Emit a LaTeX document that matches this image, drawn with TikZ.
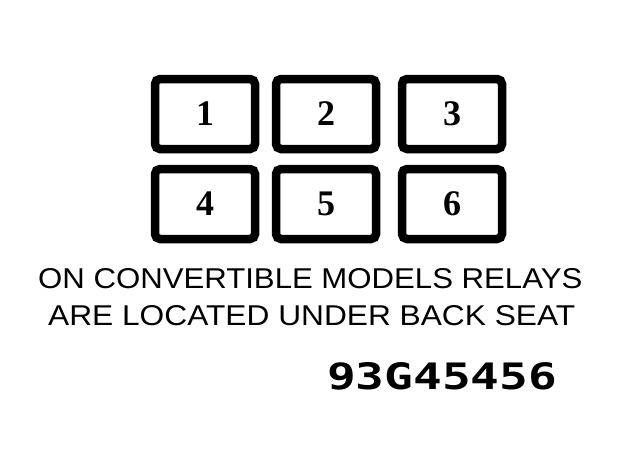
\documentclass[tikz,border=0pt]{standalone}
\usepackage{fontspec}
\setmainfont{Liberation Serif}
\setsansfont{Liberation Sans}
\newfontfamily\codefont{DejaVu Sans Mono}
\begin{document}
\begin{tikzpicture}[x=1pt,y=-1pt,
  relay/.style={draw=black,line width=8.5pt,rounded corners=5pt,minimum width=100pt,minimum height=70pt,inner sep=0pt,font=\fontsize{36}{36}\selectfont\bfseries},
  caption/.style={inner sep=0pt,anchor=north west,font=\sffamily}]
\useasboundingbox (0,0) rectangle (621,467);
\node[relay] (r1) at (205,114) {1};
\node[relay] (r2) at (326,114) {2};
\node[relay] (r3) at (452,114) {3};
\node[relay] (r4) at (205,204) {4};
\node[relay] (r5) at (326,204) {5};
\node[relay] (r6) at (452,204) {6};
\node[caption] (l1) at (38,268) {\resizebox{544pt}{20pt}{ON CONVERTIBLE MODELS RELAYS}};
\node[caption] (l2) at (48,305) {\resizebox{527pt}{20pt}{ARE LOCATED UNDER BACK SEAT}};
\node[caption] (code) at (327,362) {\resizebox{230pt}{27pt}{\codefont\bfseries 93G45456}};
\end{tikzpicture}
\end{document}
